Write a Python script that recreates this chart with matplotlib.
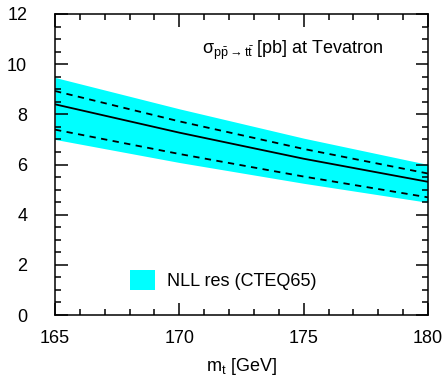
import matplotlib
matplotlib.use("Agg")
import matplotlib.pyplot as plt
from matplotlib.ticker import MultipleLocator

mt = [165, 170, 175, 180]
band_hi = [9.47, 8.22, 7.05, 6.00]
dash_hi = [8.93, 7.72, 6.62, 5.64]
central = [8.40, 7.27, 6.23, 5.31]
dash_lo = [7.39, 6.42, 5.52, 4.69]
band_lo = [7.00, 6.08, 5.25, 4.49]

xticks = [165, 170, 175, 180]
yticks = [0, 2, 4, 6, 8, 10, 12]

plt.rcParams['font.family'] = ['Liberation Sans', 'DejaVu Sans']
plt.rcParams['mathtext.fontset'] = 'custom'
plt.rcParams['mathtext.rm'] = 'Liberation Sans'
plt.rcParams['mathtext.it'] = 'Liberation Sans'
plt.rcParams['mathtext.sf'] = 'Liberation Sans'

fig = plt.figure(figsize=(4.44, 3.81), dpi=100)
ax = fig.add_axes([55/444, 1-315/381, 373/444, 301/381])

ax.fill_between(mt, band_lo, band_hi, color='#00FFFF', lw=0, label='NLL res (CTEQ65)')
ax.plot(mt, central, color='black', lw=1.3)
ax.plot(mt, dash_hi, color='black', lw=1.3, ls=(0, (3.5, 3)))
ax.plot(mt, dash_lo, color='black', lw=1.3, ls=(0, (3.5, 3)))

ax.set_xlim(165, 180)
ax.set_ylim(0, 12)
ax.set_xticks(xticks)
ax.set_yticks(yticks)
ax.xaxis.set_minor_locator(MultipleLocator(1))
ax.yaxis.set_minor_locator(MultipleLocator(0.5))
ax.tick_params(which='both', direction='in', top=True, right=True, width=1.1, labelsize=13)
ax.tick_params(which='major', length=9)
ax.tick_params(which='minor', length=4.5)
ax.tick_params(axis='y', pad=20)
ax.tick_params(axis='x', pad=11)
for s in ax.spines.values():
    s.set_linewidth(1.1)

ax.set_xlabel(r'm$_\mathrm{t}$ [GeV]', fontsize=13, labelpad=6)
ax.text(0.395, 0.88, r'$\mathrm{\sigma}_{\mathrm{p\bar{p}\rightarrow t\bar{t}}}$ [pb] at Tevatron',
        transform=ax.transAxes, fontsize=13, ha='left', va='center')

leg = ax.legend(loc='center left', bbox_to_anchor=((130-55)/373, (315-280)/301),
                frameon=False, fontsize=13, handlelength=1.4, handleheight=1.4,
                handletextpad=0.65, borderpad=0, borderaxespad=0)

fig.savefig('out.png', dpi=100)
